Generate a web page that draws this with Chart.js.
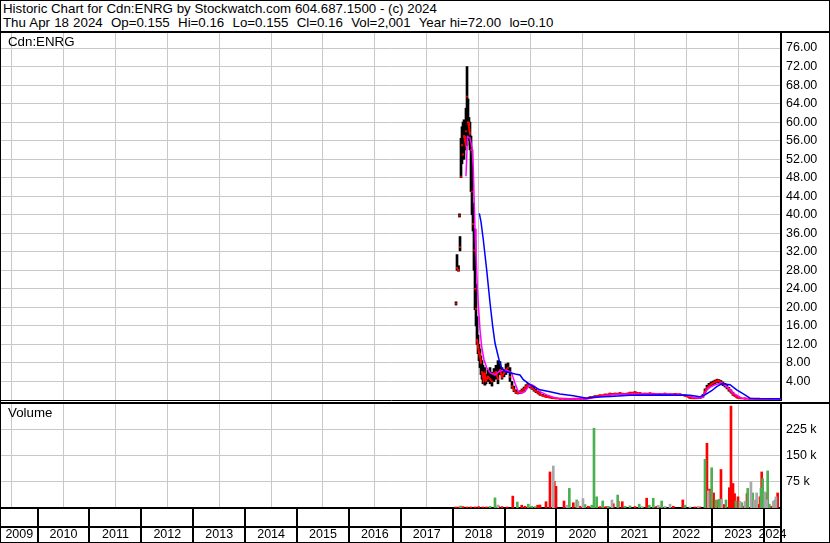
<!DOCTYPE html>
<html>
<head>
<meta charset="utf-8">
<script src="https://cdn.jsdelivr.net/npm/chart.js@4.4.1/dist/chart.umd.min.js"></script>
<style>
  html,body{margin:0;padding:0;background:#fff;}
  #wrap{position:relative;width:830px;height:543px;overflow:hidden;background:#fff;font-family:"Liberation Sans",Arial,sans-serif;}
  #hdr{position:absolute;left:3px;top:2px;font-size:13.3px;line-height:14px;color:#000;white-space:pre;}
  .lbl{position:absolute;font-size:13.3px;line-height:15px;color:#000;white-space:pre;}
  .ln{position:absolute;background:#000;}
  canvas{position:absolute;left:0;}
</style>
</head>
<body>
<div id="wrap">
  <div id="hdr">Historic Chart for Cdn:ENRG by Stockwatch.com 604.687.1500 - (c) 2024
<span style="word-spacing:0.45px">Thu Apr 18 2024  Op=0.155  Hi=0.16  Lo=0.155  Cl=0.16  Vol=2,001  Year hi=72.00  lo=0.10</span></div>
  <canvas id="pc" width="830" height="369" style="top:32px;width:830px;height:369px"></canvas>
  <canvas id="vc" width="830" height="142" style="top:401px;width:830px;height:142px"></canvas>
  <div class="lbl" style="left:8px;top:34px">Cdn:ENRG</div>
  <div class="lbl" style="left:8px;top:405px">Volume</div>
  <div class="ln" style="left:0;top:0;width:830px;height:1px"></div>
  <div class="ln" style="left:0;top:0;width:1px;height:543px"></div>
  <div class="ln" style="left:829px;top:0;width:1px;height:543px"></div>
  <div class="ln" style="left:0;top:542px;width:830px;height:1px"></div>
  <div class="ln" style="left:0;top:31px;width:830px;height:2px"></div>
  <div class="ln" style="left:0;top:402px;width:830px;height:2px"></div>
</div>
<script>
// ---------- DATA ----------
const xStart = 2009.295, xEnd = 2024.327;
const yearBounds = [2010,2011,2012,2013,2014,2015,2016,2017,2018,2019,2020,2021,2022,2023,2024];
const yearLabels = ['2009','2010','2011','2012','2013','2014','2015','2016','2017','2018','2019','2020','2021','2022','2023','2024'];
const priceTicks = [4,8,12,16,20,24,28,32,36,40,44,48,52,56,60,64,68,72,76];
const volTicks = [75000,150000,225000];

const priceDates = [2018.064,2018.083,2018.112,2018.131,2018.141,
  2018.160,2018.179,2018.199,2018.218,2018.237,2018.256,2018.276,2018.295,2018.314,2018.333,2018.353,2018.372,2018.391,2018.410,2018.430,2018.449,2018.468,2018.488,2018.507,2018.526,2018.545,2018.565,2018.584,2018.603,2018.622,2018.642,
  2018.680,2018.719,2018.757,2018.796,2018.834,2018.873,2018.912,2018.950,2018.989,2019.027,2019.066,2019.104,
  2019.143,2019.181,2019.220,2019.258,2019.297,2019.335,2019.374,2019.412,2019.451,2019.490,2019.528,2019.567,2019.605,2019.644,2019.682,
  2019.740,2019.798,2019.856,2019.914,
  2019.991,
  2020.068,2020.164,2020.260,2020.357,2020.453,2020.550,2020.646,2020.742,2020.839,2020.935,2021.031,2021.128,2021.224,2021.320,2021.417,2021.513,2021.610,2021.706,2021.802,2021.899,2021.995,2022.091,2022.188,2022.284,2022.381,2022.477,2022.573,2022.670,2022.766,
  2022.824,
  2022.862,2022.901,2022.939,2022.978,2023.016,2023.055,2023.093,2023.132,2023.170,2023.209,2023.247,2023.286,2023.324,2023.363,2023.401,2023.440,2023.478,
  2023.536,2023.633,2023.729,2023.825,2023.922,2024.018,2024.114,2024.211,2024.295];
const priceLow = [20.5,28.0,27.8,39.5,32.2,
  48,51,52,52,54,55,55,56,56,54,45,40,36.5,28,19.5,16,12,10,8.5,7,5.5,4.5,3.5,4,3.2,3.5,
  4,3.5,3,4,4.5,3.5,5.5,4.5,5,5.5,6,4,
  2.5,1.8,1.4,1.3,1.4,1.5,1.9,2.4,2.8,2.6,2.3,1.9,1.6,1.3,1.0,
  0.8,0.6,0.5,0.35,
  0.3,
  0.2,0.2,0.2,0.2,0.22,0.22,0.3,0.6,0.8,0.9,1.1,1.1,1.2,1.1,1.2,1.3,1.2,1.1,1.2,1.1,1.0,1.1,1.0,1.1,1.0,0.8,0.35,0.3,0.35,
  0.6,
  1.4,2.2,2.6,3.0,3.3,3.5,3.8,3.7,3.4,3.1,2.8,2.4,1.9,1.5,1.0,0.7,0.45,
  0.3,0.25,0.2,0.18,0.16,0.14,0.12,0.12,0.155];
const priceHigh = [21.2,31.4,29.0,40.2,35.3,
  56.5,59,60,60.5,58,63,72,65,61,60,57,54,42.5,37,34.4,25,18,14,12,11,9.5,8.5,7.5,6.5,7,5.5,
  6.5,7,6,6.8,7.5,8.5,8.3,7,6.5,7.8,8,7,
  4,3,2.2,1.8,2,2.4,2.8,3.3,3.6,3.4,3,2.7,2.3,1.9,1.6,
  1.2,1.0,0.8,0.6,
  0.45,
  0.35,0.3,0.3,0.3,0.3,0.35,0.7,0.9,1.1,1.3,1.5,1.5,1.6,1.4,1.7,1.8,1.6,1.5,1.5,1.4,1.4,1.5,1.3,1.4,1.3,1.2,0.6,0.5,0.6,
  1.2,
  2.4,3.2,3.6,3.9,4.1,4.3,4.5,4.4,4.2,3.9,3.6,3.2,2.7,2.2,1.7,1.2,0.8,
  0.55,0.4,0.3,0.28,0.25,0.22,0.2,0.19,0.16];
const priceClose = [20.8,28.5,28.0,39.8,33.0,
  48.2,55,53,57,56,58,65.5,60,59,57.5,54,45,38,32.3,24,19.7,13,11.5,10.2,9.5,8,6,5,4.5,5.5,4.2,
  5,4.5,4,5.8,6,4.5,6.5,5,5.8,6.5,7,5,
  3,2.2,1.6,1.5,1.6,2,2.3,2.9,3.2,3.0,2.6,2.2,1.9,1.6,1.2,
  0.9,0.7,0.6,0.45,
  0.35,
  0.26,0.25,0.24,0.25,0.26,0.28,0.55,0.75,0.95,1.1,1.3,1.3,1.4,1.3,1.5,1.6,1.4,1.3,1.4,1.3,1.2,1.3,1.2,1.3,1.2,1.0,0.45,0.4,0.45,
  0.8,
  1.8,2.6,3.0,3.4,3.7,3.9,4.2,4.1,3.8,3.5,3.2,2.8,2.3,1.8,1.3,0.9,0.6,
  0.4,0.3,0.25,0.22,0.2,0.18,0.17,0.16,0.16];

// short moving average (magenta)
const maShortDates = [2018.256,2018.285,2018.333,2018.372,2018.397,2018.416,2018.430,2018.449,2018.474,2018.501,2018.526,2018.559,2018.603,2018.655,2018.719,2018.815,2018.898,2018.969,2019.071,2019.137,2019.201,2019.264,2019.330,2019.393,2019.457,2019.522,2019.586,2019.682,2019.811,2019.939,2020.068,2020.260,2020.582,2020.775,2020.935,2021.128,2021.610,2022.188,2022.535,2022.670,2022.805,2022.926,2023.055,2023.184,2023.280,2023.408,2023.570,2023.729,2024.327];
const maShortVals = [48.3,56.9,56.6,54.5,50,42,37,31.7,24.5,19.5,15.2,11.5,8.7,7,5.9,5.4,6.2,6.4,6.3,5.8,3.6,1.8,1.5,1.8,2.9,3.3,2.9,1.8,1.1,0.6,0.3,0.22,0.22,0.6,0.9,1.2,1.3,1.25,1.0,0.5,0.5,2.6,3.3,3.7,2.9,1.5,0.4,0.25,0.18];
// long moving average (blue)
const maLongDates = [2018.513,2018.545,2018.590,2018.655,2018.719,2018.771,2018.815,2018.860,2018.902,2018.944,2019.008,2019.104,2019.201,2019.297,2019.361,2019.490,2019.682,2019.875,2020.068,2020.324,2020.582,2020.710,2021.031,2021.417,2021.995,2022.573,2022.766,2022.862,2022.991,2023.087,2023.184,2023.344,2023.473,2023.633,2023.729,2023.922,2024.327];
const maLongVals = [40.3,38.5,34.6,28.1,21,15.9,12.3,10.2,8.3,6.9,6.2,5.9,5.6,5.4,4.4,3.3,2.2,1.8,1.3,0.9,0.4,0.6,0.75,1.0,1.1,1.05,0.7,1.1,2.0,2.9,3.5,3.3,2.2,1.1,0.4,0.3,0.25];

// volume: up days (green)
const volUpDates = [2018.154,2018.719,2018.815,2019.245,2019.457,2019.522,2019.586,2020.248,2020.390,2020.550,2020.679,2020.723,2020.775,2020.891,2020.998,2021.180,2021.320,2021.417,2021.595,2021.788,2021.865,2022.027,2022.476,2022.862,2022.991,2023.074,2023.138,2023.267,2023.459,2023.569,2023.685,2023.781,2023.941,2023.974,2024.070,2024.101,2024.211];
const volUpVals = [5700,5000,29000,17000,11000,5000,4000,56000,23000,10000,8000,228000,32000,20000,5000,37000,5000,6000,11000,8000,28000,20000,8000,139000,115000,23000,25000,23000,20000,15000,56000,43000,56000,84000,106000,11000,23000];
// volume: down days (red)
const volDownDates = [2018.060,2018.120,2018.200,2018.280,2018.350,2018.430,2018.500,2018.580,2018.650,2018.880,2018.950,2019.050,2019.158,2019.330,2019.393,2019.637,2019.682,2019.798,2019.875,2019.958,2019.991,2020.145,2020.324,2020.453,2020.614,2020.839,2020.948,2021.095,2021.191,2021.268,2021.513,2021.738,2021.931,2022.252,2022.434,2022.670,2022.766,2022.900,2022.950,2023.028,2023.124,2023.170,2023.221,2023.250,2023.331,2023.363,2023.402,2023.433,2023.498,2023.606,2023.672,2023.851,2023.895,2023.922,2023.955,2024.032,2024.147,2024.262];
const volDownVals = [3000,3000,4000,3000,3000,3000,4000,3000,3000,5700,4000,3000,34000,8000,5000,8000,8500,18000,103000,76000,62000,20000,15000,5000,5000,4000,4000,12000,19000,18000,4000,28000,5000,5000,23000,3000,3000,185000,54000,43000,23000,110000,10000,8000,58000,291000,70000,41000,32000,5000,41000,23000,10000,32000,103000,43000,5000,43000];
// volume: unchanged days (grey)
const volFlatDates = [2018.867,2019.939,2020.202,2020.414,2020.511,2021.070,2021.653,2021.962,2022.091,2022.188,2022.573,2022.732,2022.926,2023.184,2023.536,2023.633,2023.748,2023.813,2023.858,2024.018,2024.051,2024.178,2024.230];
const volFlatVals = [8500,120000,8000,19000,27000,23000,4000,8000,5000,11000,3000,5000,49000,25000,19000,19000,74000,23000,43000,46000,23000,19000,32000];

// ---------- HELPERS ----------
const pts = (d, v) => d.map((x, i) => ({x, y: v[i]}));
const FONT = {family: '"Liberation Sans", Arial, sans-serif', size: 12.5};
const GRID = '#c8c8c8';
const labelCenters = [];
{
  const b = [xStart, ...yearBounds, xEnd];
  for (let i = 0; i < b.length - 1; i++) labelCenters.push((b[i] + b[i + 1]) / 2);
}
const noPad = s => { s.paddingTop = 0; s.paddingBottom = 0; s.paddingLeft = 0; s.paddingRight = 0; };

// ---------- PRICE CHART ----------
new Chart(document.getElementById('pc'), {
  type: 'line',
  data: {
    datasets: [
      {type: 'line', data: pts(maLongDates, maLongVals), borderColor: '#0000ff', borderWidth: 1.5, pointRadius: 0, order: 0},
      {type: 'line', data: pts(maShortDates, maShortVals), borderColor: '#ff00ff', borderWidth: 1.5, pointRadius: 0, order: 1},
      {type: 'line', data: pts(priceDates, priceClose), borderColor: '#ff0000', borderWidth: 2,
        pointRadius: 1.3, pointStyle: 'rect', pointBackgroundColor: '#ff0000', pointBorderWidth: 0,
        segment: {borderColor: c => Math.abs(c.p0.parsed.y - c.p1.parsed.y) > 1.5 ? 'rgba(0,0,0,0)' : '#ff0000'},
        order: 2},
      {type: 'bar', data: priceDates.map((x, i) => ({x, y: [priceLow[i], priceHigh[i]]})),
        backgroundColor: '#000', borderWidth: 0, barThickness: 2, grouped: false, order: 3}
    ]
  },
  options: {
    responsive: false, animation: false, events: [],
    layout: {autoPadding: false, padding: {left: 1, top: 0, bottom: 1, right: 0}},
    plugins: {legend: {display: false}, tooltip: {enabled: false}},
    scales: {
      x: {type: 'linear', min: xStart, max: xEnd, offset: false,
        afterBuildTicks: s => { s.ticks = yearBounds.map(v => ({value: v})); },
        afterFit: s => { noPad(s); s.height = 0; },
        ticks: {display: false},
        grid: {color: GRID, lineWidth: 1, drawTicks: false},
        border: {display: true, color: '#000', width: 1}},
      y: {type: 'linear', position: 'right', min: 0, max: 79.46,
        afterBuildTicks: s => { s.ticks = priceTicks.map(v => ({value: v})); },
        afterFit: s => { noPad(s); s.width = 49; },
        ticks: {font: FONT, color: '#000', padding: 5, callback: v => Number(v).toFixed(2)},
        grid: {color: GRID, lineWidth: 1, drawTicks: false},
        border: {display: true, color: '#000', width: 2}}
    }
  }
});

// ---------- VOLUME CHART ----------
const stripPlugin = {
  id: 'strip',
  afterDraw(chart) {
    const {ctx, chartArea: ca} = chart;
    const x = chart.scales.x;
    const h = chart.height;
    ctx.save();
    ctx.strokeStyle = '#000';
    ctx.lineWidth = 2;
    ctx.beginPath();
    yearBounds.forEach(v => {
      const px = Math.round(x.getPixelForValue(v));
      ctx.moveTo(px, ca.bottom); ctx.lineTo(px, h);
    });
    ctx.moveTo(ca.right, ca.bottom); ctx.lineTo(ca.right, h);
    ctx.moveTo(0, ca.bottom + 19); ctx.lineTo(ca.right, ca.bottom + 19);
    ctx.stroke();
    ctx.restore();
  }
};

const volBar = (d, v, color) => ({type: 'bar', data: pts(d, v), backgroundColor: color, borderWidth: 0, barThickness: 2, grouped: false});

new Chart(document.getElementById('vc'), {
  type: 'bar',
  data: {
    datasets: [
      volBar(volFlatDates, volFlatVals, '#a8a8a8'),
      volBar(volUpDates, volUpVals, '#4cb050'),
      volBar(volDownDates, volDownVals, '#ff0000')
    ]
  },
  options: {
    responsive: false, animation: false, events: [],
    layout: {autoPadding: false, padding: {left: 1, top: 2, bottom: 0, right: 0}},
    plugins: {legend: {display: false}, tooltip: {enabled: false}},
    scales: {
      x: {type: 'linear', min: xStart, max: xEnd, offset: false, weight: 0,
        afterBuildTicks: s => { s.ticks = yearBounds.map(v => ({value: v})); },
        afterFit: s => { noPad(s); s.height = 0; },
        ticks: {display: false},
        grid: {color: GRID, lineWidth: 1, drawTicks: false},
        border: {display: true, color: '#000', width: 2}},
      xl: {type: 'linear', position: 'bottom', min: xStart, max: xEnd, offset: false, weight: 1,
        afterBuildTicks: s => { s.ticks = labelCenters.map(v => ({value: v})); },
        afterFit: s => { noPad(s); s.height = 35; },
        ticks: {font: FONT, color: '#000', padding: 19, autoSkip: false, maxRotation: 0,
          callback: (v, i) => yearLabels[i]},
        grid: {display: false, drawTicks: false},
        border: {display: false}},
      y: {type: 'linear', position: 'right', min: 0, max: 300000,
        afterBuildTicks: s => { s.ticks = volTicks.map(v => ({value: v})); },
        afterFit: s => { noPad(s); s.width = 49; },
        ticks: {font: FONT, color: '#000', padding: 5, callback: v => (v / 1000) + ' k'},
        grid: {color: GRID, lineWidth: 1, drawTicks: false},
        border: {display: true, color: '#000', width: 2}}
    }
  },
  plugins: [stripPlugin]
});
</script>
</body>
</html>
